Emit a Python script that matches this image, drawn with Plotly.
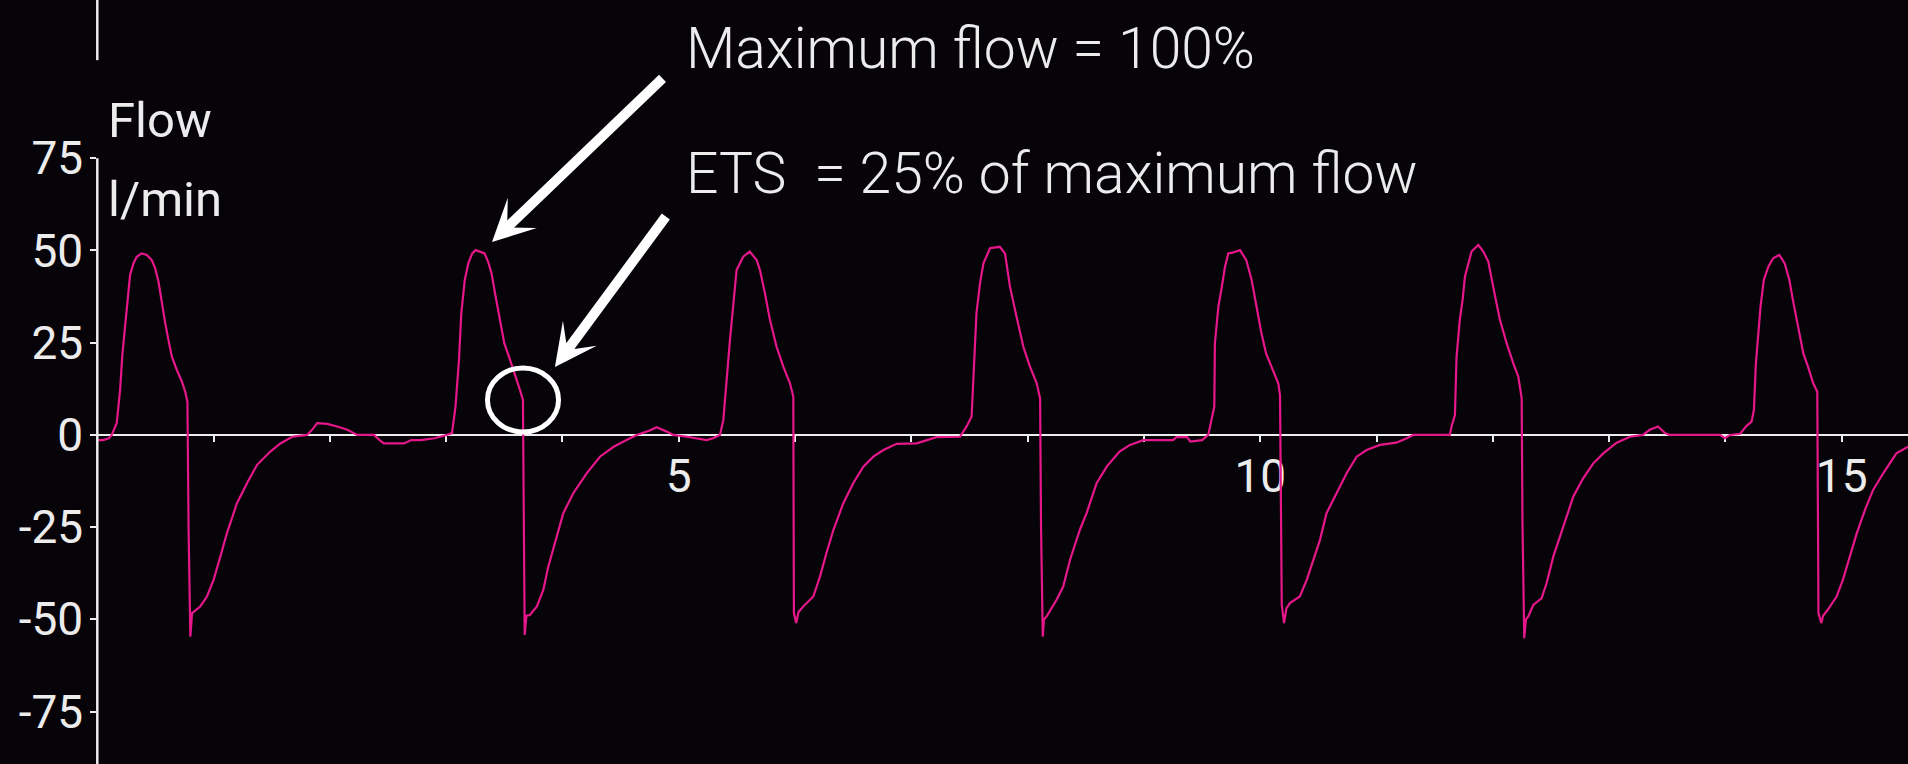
import plotly.graph_objects as go

# ---------------- data ----------------
time_s = [
    0.00, 0.05, 0.10, 0.124, 0.167, 0.196, 0.216, 0.239, 0.259, 0.282, 0.311, 0.339, 0.382, 0.426,
    0.468, 0.497, 0.526, 0.555, 0.584, 0.612, 0.641, 0.684, 0.727, 0.756, 0.775, 0.785, 0.800, 0.815,
    0.885, 0.943, 1.000, 1.058, 1.115, 1.201, 1.287, 1.374, 1.488, 1.575, 1.676, 1.804, 1.85, 1.891,
    1.977, 2.063, 2.150, 2.235, 2.380, 2.43, 2.465, 2.638, 2.70, 2.782, 2.868, 2.90,
    3.004, 3.05, 3.08, 3.11, 3.13, 3.16, 3.19, 3.224, 3.253, 3.282, 3.33, 3.36, 3.39, 3.42, 3.46,
    3.50, 3.55, 3.59, 3.634, 3.66, 3.665, 3.675, 3.69, 3.72, 3.78, 3.835, 3.878, 3.936, 4.007, 4.093,
    4.208, 4.322, 4.44, 4.55, 4.638, 4.75, 4.81, 4.896, 4.953, 5.07, 5.24, 5.296, 5.354,
    5.383, 5.41, 5.44, 5.47, 5.497, 5.554, 5.61, 5.67, 5.698, 5.741, 5.784, 5.841, 5.899, 5.956,
    5.985, 5.99, 6.01, 6.03, 6.07, 6.157, 6.214, 6.27, 6.33, 6.415, 6.5, 6.587, 6.673, 6.76, 6.873,
    7.045, 7.131, 7.217, 7.418,
    7.475, 7.518, 7.533, 7.56, 7.59, 7.62, 7.676, 7.76, 7.805, 7.848, 7.905, 7.963, 8.02, 8.078,
    8.107, 8.115, 8.13, 8.14, 8.163, 8.249, 8.306, 8.364, 8.449, 8.507, 8.593, 8.68, 8.79, 8.88,
    8.994, 9.25, 9.28, 9.37, 9.40, 9.5, 9.553,
    9.58, 9.605, 9.61, 9.64, 9.67, 9.697, 9.725, 9.76, 9.826, 9.88, 9.926, 9.969, 10.01, 10.05,
    10.11, 10.155, 10.17, 10.185, 10.205, 10.225, 10.255, 10.34, 10.4, 10.456, 10.513, 10.57, 10.656,
    10.743, 10.829, 10.915, 11.03, 11.17, 11.26, 11.316, 11.63,
    11.645, 11.674, 11.688, 11.716, 11.74, 11.76, 11.788, 11.817, 11.875, 11.918, 11.961, 11.99,
    12.02, 12.061, 12.119, 12.176, 12.219, 12.248, 12.255, 12.27, 12.285, 12.305, 12.348, 12.419,
    12.462, 12.52, 12.606, 12.692, 12.778, 12.864, 12.95, 13.065, 13.18, 13.29, 13.35, 13.42, 13.48,
    13.52, 13.953, 13.996, 14.04, 14.126,
    14.18, 14.225, 14.245, 14.262, 14.282, 14.302, 14.33, 14.369, 14.41, 14.463, 14.51, 14.55, 14.58,
    14.626, 14.67, 14.71, 14.755, 14.79, 14.80, 14.825, 14.84, 14.88, 14.956, 15.01, 15.07, 15.13,
    15.2, 15.27, 15.357, 15.47, 15.57,
]
flow_lpm = [
    -1.4, -1.4, -0.9, 0.0, 3.2, 12.2, 22.0, 30.0, 37.0, 43.4, 46.5, 48.3, 49.2, 48.8,
    47.4, 45.2, 41.6, 35.7, 30.3, 25.7, 21.2, 17.6, 14.5, 11.7, 9.0, -25.7, -54.7, -48.3,
    -46.5, -43.8, -39.3, -33.0, -26.6, -18.5, -13.1, -8.1, -4.5, -2.3, -0.5, 0.0, 1.5, 3.2,
    3.0, 2.3, 1.4, 0.0, 0.0, -1.5, -2.3, -2.3, -1.4, -1.4, -0.9, -0.9,
    0.0, 0.5, 7.7, 20.3, 33.0, 42.0, 46.5, 49.2, 50.1, 49.7, 49.2, 47.0, 43.8, 38.4, 31.2,
    24.8, 20.3, 16.7, 12.2, 9.5, -24.8, -54.2, -49.0, -48.8, -46.5, -42.0, -35.7, -29.4, -21.2, -15.8,
    -10.4, -5.9, -3.2, -1.4, 0.0, 1.2, 2.1, 0.9, 0.0, -0.5, -1.4, -0.9, 0.0,
    4.0, 14.9, 25.7, 35.7, 44.7, 48.3, 49.7, 47.4, 44.7, 38.4, 31.2, 23.9, 18.5, 14.0,
    10.4, -48.3, -51.0, -48.0, -46.5, -43.8, -38.4, -32.0, -25.7, -18.5, -13.1, -8.6, -5.9, -4.1, -2.4,
    -2.3, -1.4, -0.6, -0.5,
    2.3, 5.0, 15.8, 33.0, 41.1, 46.5, 50.6, 51.0, 49.2, 40.2, 32.0, 23.9, 18.5, 14.0,
    9.9, -24.8, -54.7, -50.0, -49.2, -44.7, -41.1, -33.9, -25.7, -21.2, -13.1, -8.6, -4.5, -2.7,
    -1.4, -1.4, -0.6, -0.6, -1.8, -1.4, 0.0,
    4.0, 7.7, 24.8, 34.8, 40.2, 45.6, 49.2, 49.4, 50.1, 47.4, 42.0, 34.8, 27.6, 22.1,
    17.6, 14.0, 10.8, -46.0, -51.0, -47.0, -45.6, -43.8, -39.3, -33.9, -28.5, -21.2, -15.8,
    -10.4, -5.9, -4.1, -2.7, -2.1, -0.9, 0.0, 0.0,
    2.3, 5.4, 21.2, 31.2, 36.6, 42.9, 46.5, 49.7, 51.5, 49.7, 47.0, 42.0,
    37.5, 31.2, 24.8, 19.4, 15.8, 9.9, -23.9, -55.1, -50.0, -49.2, -46.1, -44.3,
    -40.2, -33.0, -24.8, -16.7, -11.7, -7.7, -5.0, -2.1, -0.5, 0.0, 1.4, 2.3, 0.5,
    0.0, 0.0, -0.9, 0.0, 0.3,
    2.4, 3.6, 6.8, 19.4, 27.1, 34.8, 42.0, 45.6, 47.9, 48.8, 46.5, 42.0, 36.6,
    29.4, 22.1, 18.5, 14.0, 11.7, -48.3, -51.0, -49.0, -47.4, -43.8, -39.3, -33.0, -26.6,
    -20.3, -14.9, -10.4, -5.0, -3.2,
]

x_tick_vals = list(range(1, 16))
x_tick_text = ["5" if v == 5 else "10" if v == 10 else "15" if v == 15 else "" for v in x_tick_vals]
y_tick_vals = [-75, -50, -25, 0, 25, 50, 75]
y_tick_text = ["-75", "-50", "-25", "0", "25", "50", "75"]

y_label_lines = ["Flow", "l/min"]
note_peak = "Maximum flow = 100%"
note_ets = "ETS\u00a0 = 25% of maximum flow"
peak_point = (3.394, 52.3)
ets_point = (3.935, 18.4)
ets_circle = (3.355, 3.966, 0.81, 18.16)

# ---------------- styling ----------------
W, H = 1908, 764
BG = "#070409"
FG = "#ececec"
PINK = "#e5178a"
FONT = "Roboto, Liberation Sans, sans-serif"
X_RANGE = [0, 15.57]
Y_RANGE = [-89.2, 117.9]
X_DOMAIN_START = 97.3 / W


def ypaper(v):
    return (v - Y_RANGE[0]) / (Y_RANGE[1] - Y_RANGE[0])


fig = go.Figure()
fig.add_trace(go.Scatter(
    x=time_s, y=flow_lpm, mode="lines",
    line=dict(color=PINK, width=2.2), hoverinfo="skip", showlegend=False,
))

fig.update_layout(
    width=W, height=H,
    margin=dict(l=0, r=0, t=0, b=0),
    paper_bgcolor=BG, plot_bgcolor=BG,
    showlegend=False,
    xaxis=dict(
        domain=[X_DOMAIN_START, 1], range=X_RANGE, anchor="free", position=ypaper(0),
        showline=True, linecolor=FG, linewidth=2.5, showgrid=False, zeroline=False,
        ticks="outside", ticklen=6, tickwidth=2, tickcolor=FG,
        tickmode="array", tickvals=x_tick_vals, ticktext=x_tick_text,
        tickfont=dict(family=FONT, size=46, color=FG), ticklabelstandoff=-6,
        layer="below traces", fixedrange=True,
    ),
    yaxis=dict(
        domain=[0, 1], range=Y_RANGE, anchor="x",
        showline=False, showgrid=False, zeroline=False,
        ticks="outside", ticklen=6, tickwidth=2, tickcolor=FG,
        tickmode="array", tickvals=y_tick_vals, ticktext=y_tick_text,
        tickfont=dict(family=FONT, size=46, color=FG), ticklabelstandoff=-2,
        layer="below traces", fixedrange=True,
    ),
)

# y-axis spine (from 75 down) and the short segment at the top
fig.add_shape(type="line", xref="paper", yref="paper", x0=X_DOMAIN_START, x1=X_DOMAIN_START,
              y0=0, y1=ypaper(75), line=dict(color=FG, width=2.5))
fig.add_shape(type="line", xref="paper", yref="paper", x0=X_DOMAIN_START, x1=X_DOMAIN_START,
              y0=ypaper(101.6), y1=1, line=dict(color=FG, width=2.5))

# circle around the ETS point
fig.add_shape(type="circle", xref="x", yref="y",
              x0=ets_circle[0], x1=ets_circle[1], y0=ets_circle[2], y1=ets_circle[3],
              line=dict(color="white", width=5), layer="above")

# axis title lines
fig.add_annotation(text=y_label_lines[0], xref="paper", yref="paper", x=106 / W, y=1 - 120 / H,
                   xanchor="left", yanchor="middle", showarrow=False,
                   font=dict(family=FONT, size=49, color=FG))
fig.add_annotation(text=y_label_lines[1], xref="paper", yref="paper", x=106 / W, y=1 - 200 / H,
                   xanchor="left", yanchor="middle", showarrow=False,
                   font=dict(family=FONT, size=49, color=FG))

# notes
fig.add_annotation(text=note_peak, xref="paper", yref="paper", x=684 / W, y=1 - 48.5 / H,
                   xanchor="left", yanchor="middle", showarrow=False,
                   font=dict(family=FONT, size=57, color=FG, weight=300))
fig.add_annotation(text=note_ets, xref="paper", yref="paper", x=684 / W, y=1 - 174 / H,
                   xanchor="left", yanchor="middle", showarrow=False,
                   font=dict(family=FONT, size=57, color=FG, weight=300))

# arrows
fig.add_annotation(x=peak_point[0], y=peak_point[1], xref="x", yref="y", text="",
                   showarrow=True, ax=172, ay=-165, arrowcolor="white", arrowwidth=10,
                   arrowhead=3, arrowsize=0.7, standoff=0)
fig.add_annotation(x=ets_point[0], y=ets_point[1], xref="x", yref="y", text="",
                   showarrow=True, ax=112, ay=-152, arrowcolor="white", arrowwidth=10,
                   arrowhead=3, arrowsize=0.7, standoff=0)

fig.write_html(
    "out.html",
    config={"displayModeBar": False, "staticPlot": True},
    post_script="document.body.style.margin='0';document.body.style.padding='0';"
                "document.body.style.background='%s';" % BG,
)
